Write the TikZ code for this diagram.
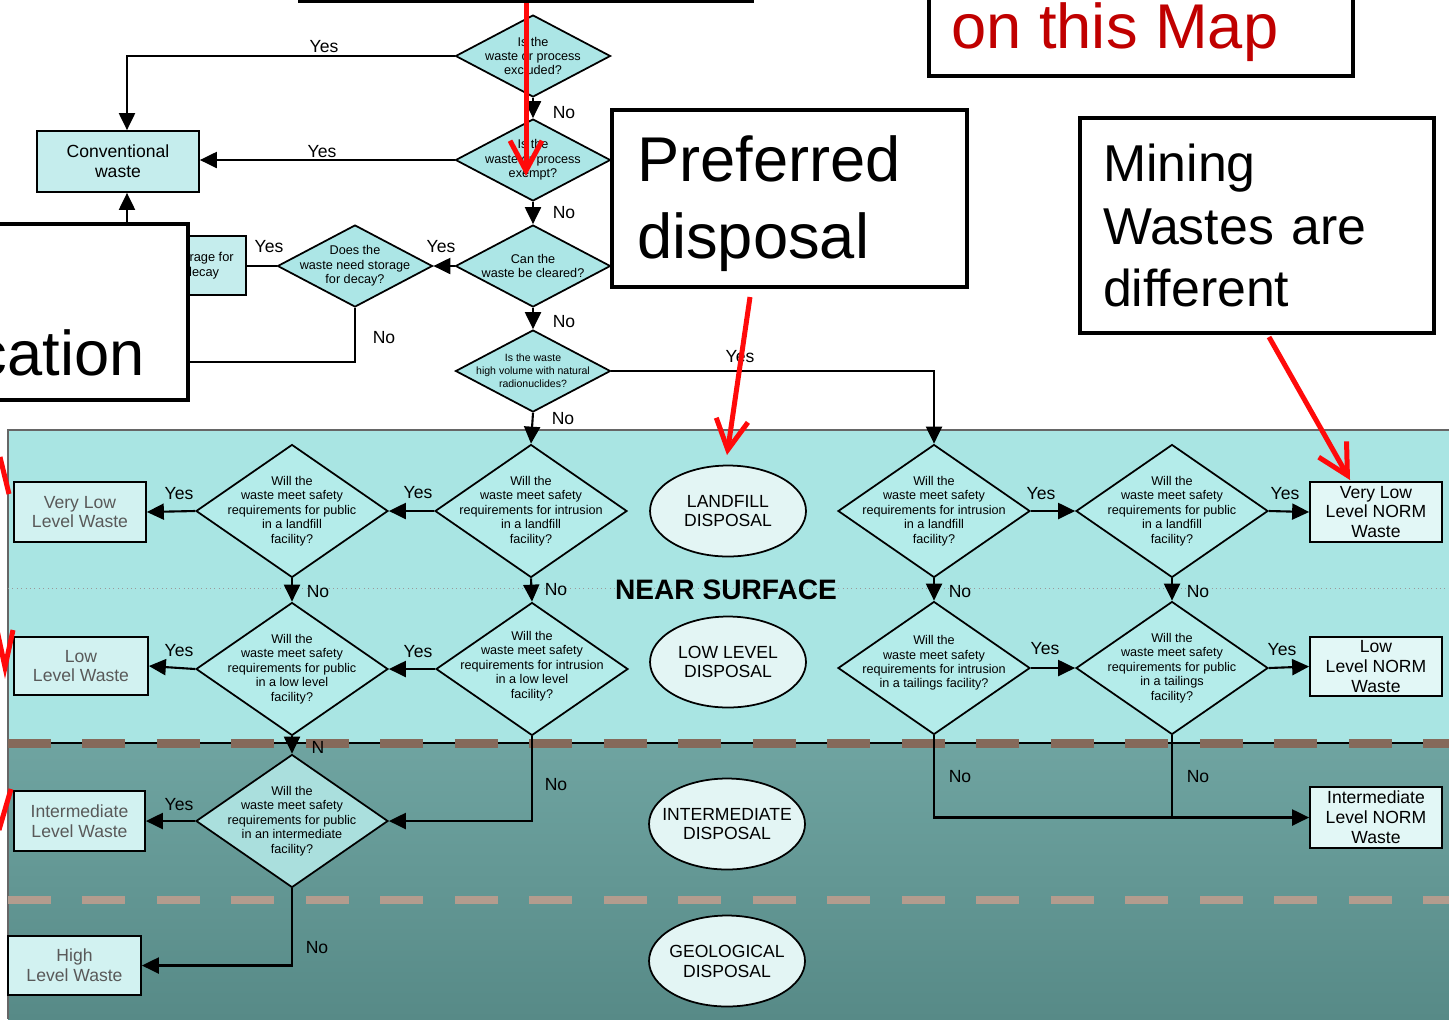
\documentclass[tikz,border=0pt]{standalone}
\usepackage{fontspec}
\setmainfont{Liberation Sans}
\usepackage{xcolor}
\usetikzlibrary{shapes.geometric}
\usetikzlibrary{arrows.meta}
\definecolor{nsblue}{HTML}{A9E5E3}
\definecolor{deeptop}{HTML}{6FA4A1}
\definecolor{deepbot}{HTML}{578A87}
\definecolor{diafill}{HTML}{B4ECEA}
\definecolor{topfill}{HTML}{ACE6E6}
\definecolor{lowfill}{HTML}{AADFDD}
\definecolor{boxfill}{HTML}{D2F2F1}
\definecolor{normfill}{HTML}{E2F7F6}
\definecolor{ellfill}{HTML}{E3F5F4}
\definecolor{dashdark}{HTML}{85695A}
\definecolor{dashlight}{HTML}{B39C8E}
\definecolor{mapred}{HTML}{C00000}
\definecolor{penred}{HTML}{FF0A0A}
\def\dsw{3.84cm}
\def\dsh{2.66cm}
\def\tpw{3.10cm}
\def\tph{1.64cm}

\begin{document}
\begin{tikzpicture}[x=0.02cm, y=-0.02cm,
	flow/.style={line width=1.2pt, -{Triangle[length=0.34cm,width=0.32cm]}},
	link/.style={line width=1.2pt},
	dia/.style={diamond, draw, line width=1pt, fill=diafill, inner sep=0pt, minimum width=\dsw, minimum height=\dsh},
	topdia/.style={dia, fill=topfill, minimum width=\tpw, minimum height=\tph},
	qtxt/.style={font=\fontsize{7.2}{8.2}\selectfont, align=center, inner sep=0pt},
	wbox/.style={draw, line width=1pt, fill=boxfill, align=center, inner sep=0pt, text=black!65,
		font=\fontsize{10}{11.3}\selectfont, minimum width=2.64cm, minimum height=1.2cm},
	nbox/.style={wbox, fill=normfill, text=black},
	disp/.style={ellipse, draw, line width=1pt, fill=ellfill, inner sep=0pt,
		minimum width=3.12cm, minimum height=1.82cm},
	dtxt/.style={font=\fontsize{10}{11.3}\selectfont, align=center, inner sep=0pt},
	yn/.style={font=\fontsize{10}{12}\selectfont, inner sep=0pt},
	callout/.style={draw, line width=2.3pt, fill=white, inner sep=0pt},
	bigtxt/.style={font=\fontsize{36}{44}\selectfont, inner sep=0pt},
	redarr/.style={draw=penred, line width=0.1cm, -{Straight Barb[length=0.6cm,width=0.64cm]}},
	redline/.style={draw=penred, line width=0.1cm}]

	\useasboundingbox (0,0) rectangle (1449,1019);
	\clip (0,0) rectangle (1449,1019);

	% disposal zones
	\fill[nsblue] (8,430) rectangle (1449,743);
	\shade[top color=deeptop, bottom color=deepbot] (8,743) rectangle (1449,1019);
	\draw[black!60, line width=0.6pt] (1449,430) -- (8,430) -- (8,1019);
	\draw[black!40, dotted, line width=0.5pt] (8,588) -- (1449,588);
	\draw[line width=1pt] (8,743) -- (1449,743);
	\draw[dashdark, line width=0.18cm, dash pattern=on 0.86cm off 0.63cm] (8,743) -- (1449,743);
	\draw[dashlight, line width=0.16cm, dash pattern=on 0.86cm off 0.63cm] (8,900) -- (1449,900);

	% top questions
	\node[topdia, label={[qtxt]center:{Is the\\waste or process\\excluded?}}] (d1) at (533,56) {};
	\node[topdia, label={[qtxt]center:{Is the\\waste or process\\exempt?}}] (d2) at (533,160) {};
	\node[topdia, label={[qtxt]center:{Can the\\waste be cleared?}}] (d3) at (533,266) {};
	\node[topdia, label={[qtxt, font=\fontsize{6}{7.4}\selectfont]center:{Is the waste\\high volume with natural\\radionuclides?}}] (d4) at (533,371) {};
	\node[topdia, label={[qtxt]center:{Does the\\waste need storage\\for decay?}}] (d5) at (355,266) {};
	\node[wbox, fill=topfill!70!white, text=black, minimum width=3.24cm, minimum height=1.22cm] (conv) at (118,161.5) {Conventional\\waste};
	\node[wbox, fill=topfill!70!white, text=black, font=\fontsize{7.3}{8.4}\selectfont,
		minimum width=1.76cm, minimum height=1.18cm] (stor) at (202,265.5) {Storage for\\decay};

	% near surface
	\node[dia, label={[qtxt]center:{Will the\\waste meet safety\\requirements for intrusion\\in a landfill\\facility?}}] (d6) at (531,511) {};
	\node[dia, label={[qtxt]center:{Will the\\waste meet safety\\requirements for public\\in a landfill\\facility?}}] (d7) at (292,511) {};
	\node[dia, label={[qtxt, yshift=0.06cm]center:{Will the\\waste meet safety\\requirements for intrusion\\in a low level\\facility?}}] (d9) at (532,669) {};
	\node[dia, label={[qtxt]center:{Will the\\waste meet safety\\requirements for public\\in a low level\\facility?}}] (d10) at (292,669) {};
	\node[dia, label={[qtxt]center:{Will the\\waste meet safety\\requirements for intrusion\\in a landfill\\facility?}}] (d8) at (934,511) {};
	\node[dia, label={[qtxt]center:{Will the\\waste meet safety\\requirements for public\\in a landfill\\facility?}}] (d12) at (1172,511) {};
	\node[dia, label={[qtxt, yshift=0.1cm]center:{Will the\\waste meet safety\\requirements for intrusion\\in a tailings facility?}}] (d13) at (934,668) {};
	\node[dia, label={[qtxt]center:{Will the\\waste meet safety\\requirements for public\\in a tailings\\facility?}}] (d14) at (1172,668) {};
	\node[dia, fill=lowfill, label={[qtxt]center:{Will the\\waste meet safety\\requirements for public\\in an intermediate\\facility?}}] (d11) at (292,821) {};

	\node[wbox] (vllw) at (80,512) {Very Low\\Level Waste};
	\node[wbox, minimum width=2.68cm, minimum height=1.16cm] (llw) at (81,666) {Low\\Level Waste};
	\node[wbox, minimum width=2.62cm] (ilw) at (79.5,821) {Intermediate\\Level Waste};
	\node[wbox, minimum width=2.66cm, minimum height=1.18cm] (hlw) at (74.5,965.5) {High\\Level Waste};
	\node[nbox] (vlln) at (1376,512) {Very Low\\Level NORM\\Waste};
	\node[nbox, minimum height=1.18cm] (lln) at (1376,666.5) {Low\\Level NORM\\Waste};
	\node[nbox, minimum height=1.22cm] (iln) at (1376,817.5) {Intermediate\\Level NORM\\Waste};

	\node[disp, label={[dtxt]center:{LANDFILL\\DISPOSAL}}] (e1) at (728,511) {};
	\node[disp, label={[dtxt]center:{LOW LEVEL\\DISPOSAL}}] (e2) at (728,662) {};
	\node[disp, label={[dtxt]center:{INTERMEDIATE\\DISPOSAL}}] (e3) at (727,824) {};
	\node[disp, label={[dtxt]center:{GEOLOGICAL\\DISPOSAL}}] (e4) at (727,961) {};
	\node[font=\bfseries\fontsize{16}{18}\selectfont, inner sep=0pt] (ns) at (726,590) {NEAR SURFACE};

	% connectors
	\coordinate (bk) at (188,362);
	\draw[flow] (d1.west) -| ([xshift=0.18cm]conv.north);
	\draw[flow] (d1.south) -- (d2.north);
	\draw[flow] (d2.west) -- (d2.west -| conv.east);
	\draw[flow] (d2.south) -- (d3.north);
	\draw[flow] (d3.west) -- (d5.east);
	\draw[link] (d5.west) -- (d5.west -| stor.east);
	\draw[link] (d5.south) |- (bk);
	\draw[flow] (d3.south) -- (d4.north);
	\draw[flow] (d4.east) -| (d8.north);
	\draw[flow] (d4.south) -- (d6.north);
	\draw[flow] (d6.west) -- (d7.east);
	\draw[flow] (d7.west) -- (vllw.east);
	\draw[flow] (d6.south) -- (d9.north);
	\draw[flow] (d7.south) -- (d10.north);
	\draw[flow] (d9.west) -- (d10.east);
	\draw[flow] (d10.west) -- (llw.east);
	\draw[flow] (d10.south) -- (d11.north);
	\draw[flow] (d9.south) |- (d11.east);
	\draw[flow] (d11.west) -- (ilw.east);
	\draw[flow] (d11.south) |- (hlw.east);
	\draw[flow] (d8.east) -- (d12.west);
	\draw[flow] (d12.east) -- (vlln.west);
	\draw[flow] (d8.south) -- (d13.north);
	\draw[flow] (d12.south) -- (d14.north);
	\draw[flow] (d13.east) -- (d14.west);
	\draw[flow] (d14.east) -- (lln.west);
	\draw[flow] (d13.south) |- (iln.west);
	\draw[link] (d14.south) -- (d14.south |- iln.west);

	\foreach \i/\x/\y/\t in {1/324/47/Yes, 2/564/113/No, 3/322/152/Yes, 4/564/213/No, 5/441/247/Yes,
		6/269/247/Yes, 7/384/338/No, 8/564/322/No, 9/740/357/Yes, 10/563/419/No,
		11/418/493/Yes, 12/179/494/Yes, 13/556/590/No, 14/318/592/No, 15/418/652/Yes,
		16/179/651/Yes, 17/318/747/N, 18/556/785/No, 19/179/805/Yes, 20/317/948/No,
		21/1041/494/Yes, 22/1285/494/Yes, 23/960/592/No, 24/1198/592/No, 25/1045/649/Yes,
		26/1282/650/Yes, 27/960/777/No, 28/1198/777/No}
		\node[yn] (yn\i) at (\x,\y) {\t};

	% notes on top
	\node[callout, minimum width=9.04cm, minimum height=1.22cm] (topbox) at (526,-29.5) {};
	\node[callout, minimum width=8.48cm, minimum height=2.72cm] (mapbox) at (1141,8) {};
	\node[bigtxt, text=mapred, anchor=base west] (maptxt) at (951,48) {on this Map};
	\node[callout, bigtxt, align=left, text width=6.1cm, inner xsep=0.42cm,
		minimum width=7.1cm, minimum height=3.54cm] (prefbox) at (789.5,198.5) {\rule{0pt}{32pt}Preferred\\disposal};
	\node[callout, font=\fontsize{29.5}{35.7}\selectfont, align=left, text width=6.16cm, inner xsep=0.46cm,
		minimum width=7.08cm, minimum height=4.3cm] (minebox) at (1257,225.5) {Mining\\Wastes are\\different};
	\node[callout, minimum width=4.76cm, minimum height=3.52cm] (notebox) at (69,312) {};
	\node[bigtxt, anchor=base east] (notetxt) at (145,375) {cation};
	\draw[flow] ([xshift=0.18cm]conv.south |- notebox.north) -- ([xshift=0.18cm]conv.south);

	\coordinate (tipA) at (526,176);
	\coordinate (pA) at (750,297);
	\coordinate (tipB) at (727,455);
	\coordinate (mA) at (1269,337);
	\coordinate (tipC) at (1350,480);
	\draw[redarr] (topbox.south -| tipA) -- (tipA);
	\draw[redarr] (pA) -- (tipB);
	\draw[redarr] (mA) -- (tipC);
	\draw[redline] (0,457) -- (9,494);
	\draw[redline] (-3,630) -- (5,667) -- (13,630);
	\draw[redline] (11,789) -- (-1,830);
\end{tikzpicture}
\end{document}
